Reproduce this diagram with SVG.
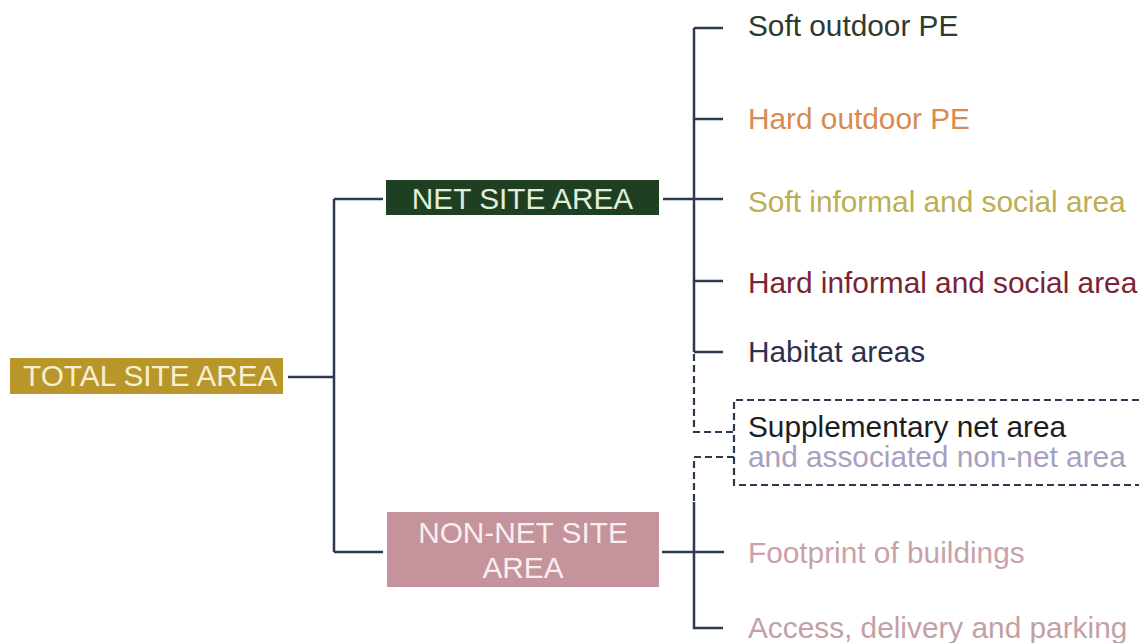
<svg xmlns="http://www.w3.org/2000/svg" width="1139" height="643" viewBox="0 0 1139 643">
<style>
.t{font-family:"Liberation Sans",Arial,sans-serif;font-size:29.8px}
.ln{stroke:#2b3a4e;stroke-width:2.5;fill:none}
.dl{stroke:#2b3a4e;stroke-width:2.2;fill:none;stroke-dasharray:7 4}
</style>
<rect width="1139" height="643" fill="#ffffff"/>
<g id="connectors">
<path class="ln" d="M288 377H334M334 199V552M334 199H383M334 552H383"/>
<path class="ln" d="M663 199H723M694 28V352M694 28H723M694 119H723M694 281H723M694 352H723"/>
<path class="ln" d="M662 552H724M694 502V628H723"/>
<path class="dl" d="M694 354V432H734M734 457H694V502"/>
</g>
<g id="total">
<rect x="10" y="358" width="273" height="36" fill="#b8962a"/>
<text class="t" x="23" y="386" fill="#f6f0d2" font-size="29">TOTAL SITE AREA</text>
</g>
<g id="net">
<rect x="386" y="180" width="273" height="35" fill="#1f3f23"/>
<text class="t" x="522.5" y="209" fill="#e2eedb" text-anchor="middle" font-size="29">NET SITE AREA</text>
</g>
<g id="nonnet">
<rect x="387" y="512" width="272" height="75" fill="#c4939b"/>
<text class="t" x="523" y="543" fill="#f9eef0" text-anchor="middle" font-size="29">NON-NET SITE</text>
<text class="t" x="523" y="578" fill="#f9eef0" text-anchor="middle" font-size="29">AREA</text>
</g>
<g id="soft-outdoor"><text class="t" x="748" y="36" fill="#2d3b2e">Soft outdoor PE</text></g>
<g id="hard-outdoor"><text class="t" x="748" y="129" fill="#d98a4f">Hard outdoor PE</text></g>
<g id="soft-informal"><text class="t" x="748" y="212" fill="#bdae52">Soft informal and social area</text></g>
<g id="hard-informal"><text class="t" x="748" y="293" fill="#7a2433">Hard informal and social area</text></g>
<g id="habitat"><text class="t" x="748" y="362" fill="#2e3050">Habitat areas</text></g>
<g id="supplementary">
<path class="dl" d="M1139 400H734V485H1139"/>
<text class="t" x="748" y="437" fill="#1e1e1e">Supplementary net area</text>
<text class="t" x="748" y="467" fill="#a6a1c0">and associated non-net area</text>
</g>
<g id="footprint"><text class="t" x="748" y="563" fill="#c9a2a8">Footprint of buildings</text></g>
<g id="access"><text class="t" x="748" y="638" fill="#c4a0a6">Access, delivery and parking</text></g>
</svg>
